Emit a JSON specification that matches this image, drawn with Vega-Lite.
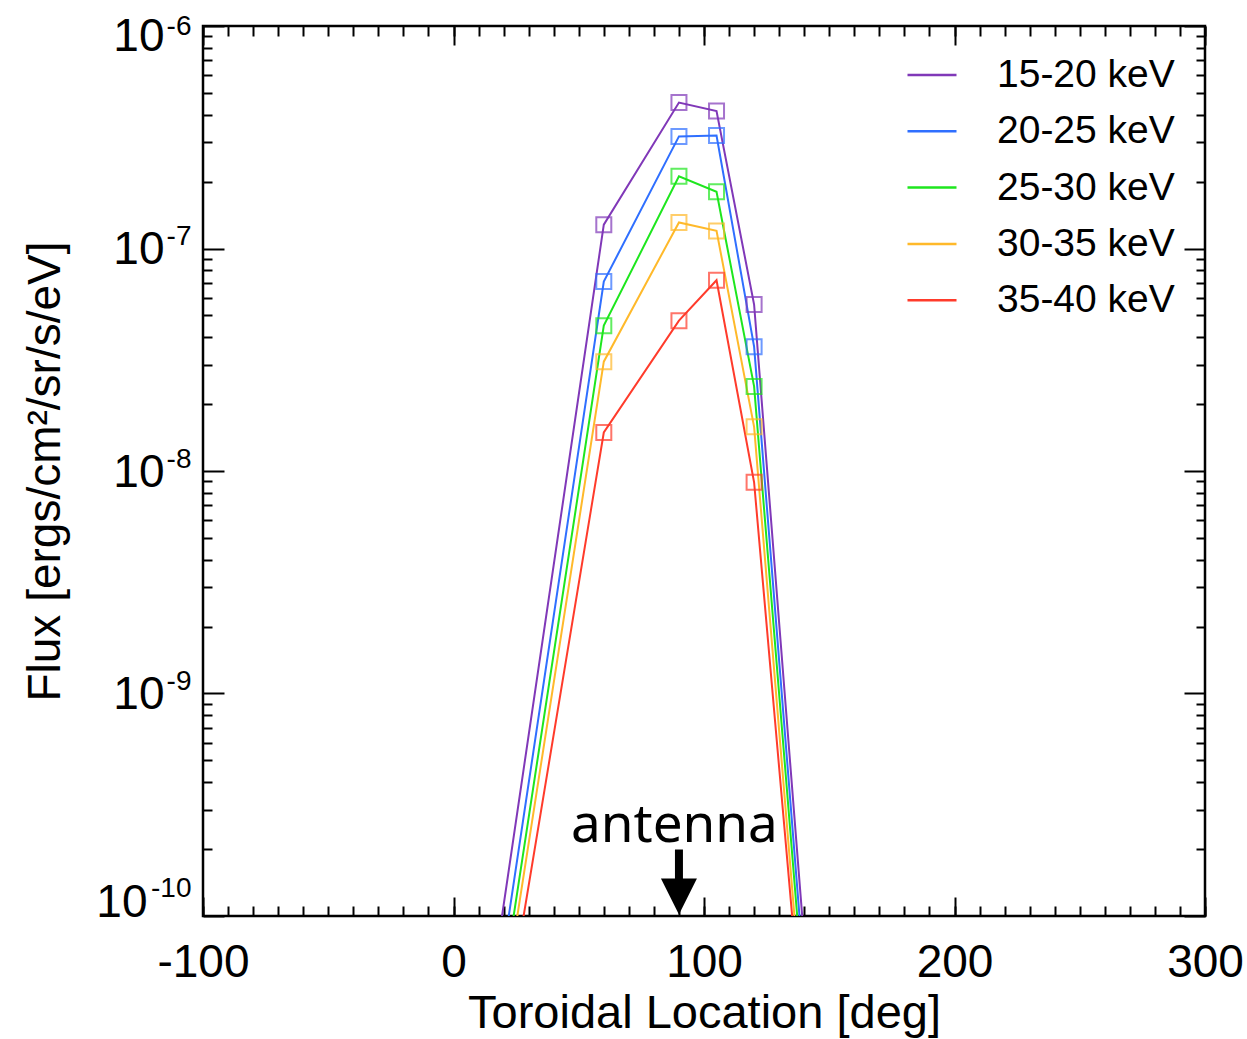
{
  "$schema": "https://vega.github.io/schema/vega-lite/v6.json",
  "autosize": {"type": "none"},
  "padding": {"left": 203, "top": 26, "right": 42, "bottom": 123},
  "width": 1002,
  "height": 890,
  "background": "white",
  "config": {
    "view": {"stroke": "black", "strokeWidth": 2.5},
    "axis": {"domain": false, "grid": false, "tickColor": "black", "tickWidth": 2, "labelFont": "Liberation Sans", "titleFont": "Liberation Sans", "labelColor": "black", "titleColor": "black", "labelFlush": false, "labelOverlap": false, "titleFontWeight": "normal"},
    "legend": {"labelFont": "Liberation Sans"}
  },
  "datasets": {
    "flux": [
      {"band": "15-20 keV", "x": 0, "flux": 3.3e-12},
      {"band": "15-20 keV", "x": 60, "flux": 1.28e-7},
      {"band": "15-20 keV", "x": 90, "flux": 4.53e-7},
      {"band": "15-20 keV", "x": 105, "flux": 4.15e-7},
      {"band": "15-20 keV", "x": 120, "flux": 5.6e-8},
      {"band": "15-20 keV", "x": 150, "flux": 2.85e-12},
      {"band": "20-25 keV", "x": 0, "flux": 2.2e-12},
      {"band": "20-25 keV", "x": 60, "flux": 7.1e-8},
      {"band": "20-25 keV", "x": 90, "flux": 3.19e-7},
      {"band": "20-25 keV", "x": 105, "flux": 3.22e-7},
      {"band": "20-25 keV", "x": 120, "flux": 3.62e-8},
      {"band": "20-25 keV", "x": 150, "flux": 2.1e-12},
      {"band": "25-30 keV", "x": 0, "flux": 1.7e-12},
      {"band": "25-30 keV", "x": 60, "flux": 4.5e-8},
      {"band": "25-30 keV", "x": 90, "flux": 2.11e-7},
      {"band": "25-30 keV", "x": 105, "flux": 1.8e-7},
      {"band": "25-30 keV", "x": 120, "flux": 2.4e-8},
      {"band": "25-30 keV", "x": 150, "flux": 1.7e-12},
      {"band": "30-35 keV", "x": 0, "flux": 1.45e-12},
      {"band": "30-35 keV", "x": 60, "flux": 3.1e-8},
      {"band": "30-35 keV", "x": 90, "flux": 1.31e-7},
      {"band": "30-35 keV", "x": 105, "flux": 1.2e-7},
      {"band": "30-35 keV", "x": 120, "flux": 1.58e-8},
      {"band": "30-35 keV", "x": 150, "flux": 1.26e-12},
      {"band": "35-40 keV", "x": 0, "flux": 1.26e-12},
      {"band": "35-40 keV", "x": 60, "flux": 1.49e-8},
      {"band": "35-40 keV", "x": 90, "flux": 4.74e-8},
      {"band": "35-40 keV", "x": 105, "flux": 7.2e-8},
      {"band": "35-40 keV", "x": 120, "flux": 8.9e-9},
      {"band": "35-40 keV", "x": 150, "flux": 1.26e-12}
    ]
  },
  "resolve": {"axis": {"x": "independent", "y": "independent"}},
  "layer": [
    {
      "data": {"name": "flux"},
      "mark": {"type": "line", "clip": true, "strokeWidth": 2},
      "encoding": {
        "x": {"field": "x", "type": "quantitative",
          "scale": {"domain": [-100, 300], "nice": false, "zero": false},
          "axis": {"orient": "bottom", "values": [-100, 0, 100, 200, 300], "tickSize": -19, "labelFontSize": 46, "labelPadding": 43, "labelExpr": "'' + datum.value", "title": "Toroidal Location [deg]", "titleFontSize": 47, "titlePadding": 5}},
        "y": {"field": "flux", "type": "quantitative",
          "scale": {"type": "log", "domain": [1e-10, 1e-6], "nice": false},
          "axis": {"orient": "left", "values": [1e-10, 1e-9, 1e-8, 1e-7, 1e-6], "tickSize": -21, "labelFontSize": 46,
            "labelPadding": {"condition": {"test": "datum.value < 5e-10", "value": 77}, "value": 60},
            "labelOffset": {"condition": [{"test": "datum.value < 5e-10", "value": -14}, {"test": "datum.value > 5e-7", "value": 10}], "value": 1},
            "labelExpr": "'10'",
            "title": "Flux [ergs/cm²/sr/s/eV]", "titleFontSize": 46, "titlePadding": 26}},
        "color": {"field": "band", "type": "nominal",
          "scale": {"domain": ["15-20 keV", "20-25 keV", "25-30 keV", "30-35 keV", "35-40 keV"], "range": ["#8038b8", "#2f6fff", "#1ee61e", "#ffb92a", "#ff3b2b"]},
          "legend": {"orient": "none", "legendX": 703, "legendY": 23, "title": null, "symbolType": "stroke", "symbolSize": 2401, "symbolStrokeWidth": 2.5, "labelFontSize": 39, "labelOffset": 39, "rowPadding": 10.3, "padding": 0, "labelLimit": 400, "labelColor": "black"}}
      }
    },
    {
      "data": {"name": "flux"},
      "mark": {"type": "point", "shape": "square", "filled": false, "size": 225, "strokeWidth": 2, "clip": true},
      "encoding": {
        "x": {"field": "x", "type": "quantitative",
          "scale": {"domain": [-100, 300], "nice": false, "zero": false},
          "axis": {"orient": "bottom", "values": [-100,-90,-80,-70,-60,-50,-40,-30,-20,-10,0,10,20,30,40,50,60,70,80,90,100,110,120,130,140,150,160,170,180,190,200,210,220,230,240,250,260,270,280,290,300], "tickSize": -10, "labels": false, "title": null}},
        "y": {"field": "flux", "type": "quantitative",
          "scale": {"type": "log", "domain": [1e-10, 1e-6], "nice": false},
          "axis": {"orient": "left", "values": [2e-10,3e-10,4e-10,5e-10,6e-10,7e-10,8e-10,9e-10,2e-9,3e-9,4e-9,5e-9,6e-9,7e-9,8e-9,9e-9,2e-8,3e-8,4e-8,5e-8,6e-8,7e-8,8e-8,9e-8,2e-7,3e-7,4e-7,5e-7,6e-7,7e-7,8e-7,9e-7], "tickSize": -9, "labels": false, "title": null}},
        "color": {"field": "band", "type": "nominal", "legend": null}
      }
    },
    {
      "data": {"values": [{"label": "antenna", "x": 88.2, "flux": 2.14e-10}]},
      "mark": {"type": "text", "font": "Noto Sans", "fontSize": 53, "color": "black", "align": "center", "baseline": "alphabetic"},
      "encoding": {
        "text": {"field": "label"},
        "x": {"field": "x", "type": "quantitative",
          "scale": {"domain": [-100, 300], "nice": false, "zero": false},
          "axis": {"orient": "top", "values": [-100, 0, 100, 200, 300], "tickSize": -19, "labels": false, "title": null}},
        "y": {"field": "flux", "type": "quantitative",
          "scale": {"type": "log", "domain": [1e-10, 1e-6], "nice": false},
          "axis": {"orient": "left", "values": [1e-10, 1e-9, 1e-8, 1e-7, 1e-6], "ticks": false, "labelFontSize": 28, "labelPadding": 12,
            "labelOffset": {"condition": [{"test": "datum.value < 5e-10", "value": -28}, {"test": "datum.value > 5e-7", "value": 0}], "value": -12},
            "labelExpr": "'' + round(log(datum.value) / LN10)", "title": null}}
      }
    },
    {
      "data": {"values": [{"x": 90, "top": 1.99e-10, "bottom": 1.445e-10}]},
      "mark": {"type": "rule", "strokeWidth": 8, "color": "black"},
      "encoding": {
        "x": {"field": "x", "type": "quantitative",
          "scale": {"domain": [-100, 300], "nice": false, "zero": false},
          "axis": {"orient": "top", "values": [-100,-90,-80,-70,-60,-50,-40,-30,-20,-10,0,10,20,30,40,50,60,70,80,90,100,110,120,130,140,150,160,170,180,190,200,210,220,230,240,250,260,270,280,290,300], "tickSize": -10, "labels": false, "title": null}},
        "y": {"field": "top", "type": "quantitative",
          "scale": {"type": "log", "domain": [1e-10, 1e-6], "nice": false},
          "axis": {"orient": "right", "values": [2e-10,3e-10,4e-10,5e-10,6e-10,7e-10,8e-10,9e-10,2e-9,3e-9,4e-9,5e-9,6e-9,7e-9,8e-9,9e-9,2e-8,3e-8,4e-8,5e-8,6e-8,7e-8,8e-8,9e-8,2e-7,3e-7,4e-7,5e-7,6e-7,7e-7,8e-7,9e-7], "tickSize": -9, "labels": false, "title": null}},
        "y2": {"field": "bottom"}
      }
    },
    {
      "data": {"values": [{"x": 90, "flux": 1.224e-10}]},
      "mark": {"type": "point", "shape": "M-1,-1L1,-1L0,1Z", "size": 1296, "filled": true, "color": "black", "opacity": 1, "strokeWidth": 0},
      "encoding": {
        "x": {"field": "x", "type": "quantitative",
          "scale": {"domain": [-100, 300], "nice": false, "zero": false},
          "axis": null},
        "y": {"field": "flux", "type": "quantitative",
          "scale": {"type": "log", "domain": [1e-10, 1e-6], "nice": false},
          "axis": {"orient": "right", "values": [1e-10, 1e-9, 1e-8, 1e-7, 1e-6], "tickSize": -21, "labels": false, "title": null}}
      }
    }
  ]
}
